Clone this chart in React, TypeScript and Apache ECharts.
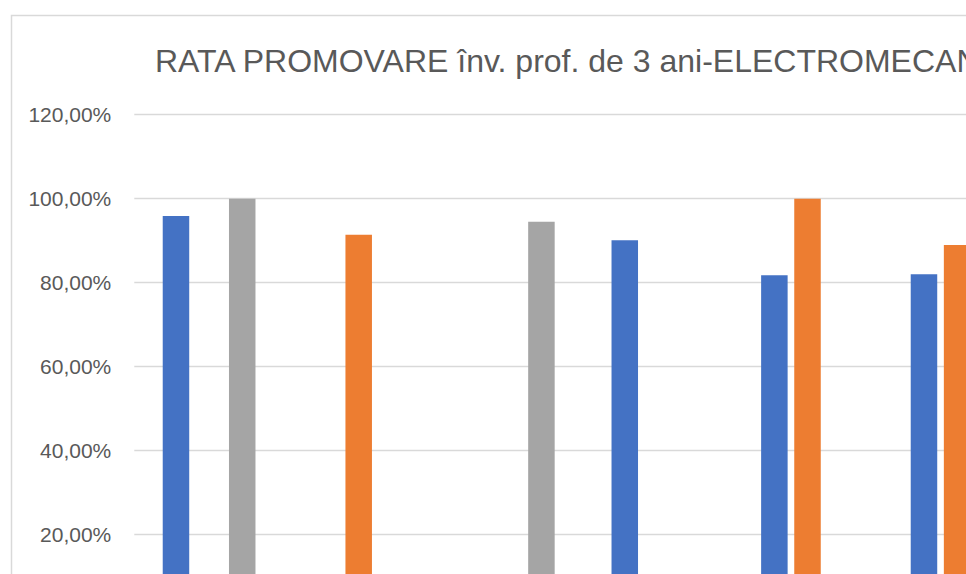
import React, { useEffect, useRef } from "react";
import * as echarts from "echarts";

const TITLE = "RATA PROMOVARE înv. prof. de 3 ani-ELECTROMECAN";
const categories = ["Cat. 1", "Cat. 2", "Cat. 3", "Cat. 4", "Cat. 5", "Cat. 6"];
const seriesNames = ["Seria 1", "Seria 2", "Seria 3"];
const blueValues = [95.9, null, null, 90.1, 81.8, 82.0];
const orangeValues = [null, 91.4, null, null, 100, 89.0];
const grayValues = [100, null, 94.5, null, null, null];
const yTicks = { min: 0, max: 120, interval: 20 };
const colors = ["#4472C4", "#ED7D31", "#A5A5A5"];

const CANVAS_W = 1100;
const CANVAS_H = 700;

export default function App() {
  const ref = useRef<HTMLDivElement>(null);
  useEffect(() => {
    if (!ref.current) return;
    const chart = echarts.init(ref.current, null, { renderer: "svg" });
    const fmt = (v: number) => v.toFixed(2).replace(".", ",") + "%";
    const data = [blueValues, orangeValues, grayValues];
    chart.setOption({
      animation: false,
      backgroundColor: "#ffffff",
      textStyle: { fontFamily: "Liberation Sans" },
      graphic: [
        {
          type: "rect",
          silent: true,
          shape: { x: 11.5, y: 15.5, width: 2000, height: 2000 },
          style: { fill: "none", stroke: "#d9d9d9", lineWidth: 1.5 },
        },
        {
          type: "text",
          silent: true,
          x: 155,
          y: 61,
          style: {
            text: TITLE,
            fill: "#595959",
            font: "32px 'Liberation Sans'",
            textVerticalAlign: "middle",
            textAlign: "left",
          },
        },
      ],
      grid: { left: 134.3, top: 114.7, right: CANVAS_W - 134.3 - 897.6, bottom: CANVAS_H - 618.7, containLabel: false },
      xAxis: {
        type: "category",
        data: categories,
        axisLine: { show: true, lineStyle: { color: "#d9d9d9" } },
        axisTick: { show: false },
        axisLabel: { show: false },
      },
      yAxis: {
        type: "value",
        min: yTicks.min,
        max: yTicks.max,
        interval: yTicks.interval,
        axisLine: { show: false },
        axisTick: { show: false },
        axisLabel: {
          formatter: fmt,
          color: "#595959",
          fontSize: 21,
          fontFamily: "Liberation Sans",
          margin: 23,
          showMinLabel: false,
        },
        splitLine: { lineStyle: { color: "#d9d9d9", width: 1.3 } },
      },
      series: seriesNames.map((name, i) => ({
        name,
        type: "bar",
        data: data[i],
        barWidth: 26.5,
        barGap: "25%",
        itemStyle: { color: colors[i] },
      })),
    });
    return () => chart.dispose();
  }, []);
  return (
    <div
      style={{ position: "fixed", left: 0, top: 0, width: 966, height: 574, overflow: "hidden", background: "#fff" }}
    >
      <div ref={ref} style={{ width: CANVAS_W, height: CANVAS_H }} />
    </div>
  );
}
